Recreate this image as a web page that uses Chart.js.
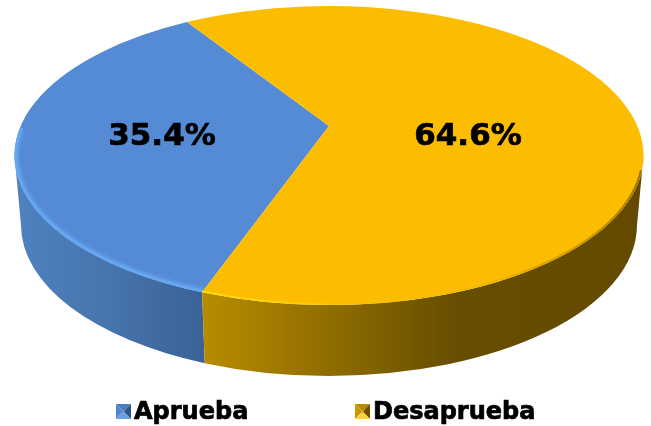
<!DOCTYPE html>
<html><head><meta charset="utf-8">
<style>html,body{margin:0;padding:0;background:#fff}canvas{display:block}</style>
<script src="https://cdn.jsdelivr.net/npm/chart.js@4"></script>
</head><body>
<canvas id="c" width="651" height="426"></canvas>
<script>
const categories = ['Aprueba', 'Desaprueba'];
const values = [35.4, 64.6];
const percentLabels = ['35.4%', '64.6%'];
const topColors = ['#558bd5', '#fcbd00'];

const TOP = {x: 329, y: 155.5, rx: 314.5, ry: 149.5};
const BOTTOM = {x: 329, y: 225, rx: 308, ry: 151};
const APEX = {x: 329, y: 126};
const FONT = '"DejaVu Sans"';
const LEFT = Math.PI, RIGHT = 0;
const norm = a => { const t = Math.PI * 2; return ((a % t) + t) % t; };
// slight perspective bend of the pie angles (chart angle: 0 = east, clockwise)
const warp = a => a - (1.07 * Math.PI / 180) * Math.sin(a);

function wallPath(ctx, a, b) {            // front wall between angles a > b
  ctx.beginPath();
  ctx.ellipse(TOP.x, TOP.y, TOP.rx, TOP.ry, 0, a, b, true);
  ctx.ellipse(BOTTOM.x, BOTTOM.y, BOTTOM.rx, BOTTOM.ry, 0, b, a, false);
  ctx.closePath();
}
function grad(ctx, x0, x1, stops) {
  const g = ctx.createLinearGradient(x0, 0, x1, 0);
  stops.forEach(s => g.addColorStop(s[0], s[1]));
  return g;
}
function icon(ctx, x, y, s, c) {
  const i = s * 0.42, poly = (col, p) => {
    ctx.fillStyle = col; ctx.beginPath();
    p.forEach((q, n) => n ? ctx.lineTo(x + q[0], y + q[1]) : ctx.moveTo(x + q[0], y + q[1]));
    ctx.closePath(); ctx.fill();
  };
  poly(c.top, [[0,0],[s,0],[s-i,i],[i,i]]);
  poly(c.left, [[0,0],[i,i],[i,s-i],[0,s]]);
  poly(c.right, [[s,0],[s,s],[s-i,s-i],[s-i,i]]);
  poly(c.bottom, [[0,s],[i,s-i],[s-i,s-i],[s,s]]);
  poly(c.mid, [[i,i],[s-i,i],[s-i,s-i],[i,s-i]]);
}
const iconColors = [
  {top:'#4a7cc0', left:'#4f86cc', right:'#2f5687', bottom:'#6a9ee0', mid:'#4378b8'},
  {top:'#b58a00', left:'#c79800', right:'#6e5200', bottom:'#ffd23a', mid:'#c09000'}
];
const legendSpots = [{x:116, y:404}, {x:355, y:404}];
const labelSpots = [{x:162, y:137}, {x:468, y:137}];

const pie3d = {
  id: 'pie3d',
  beforeDatasetsDraw(chart) {
    const ctx = chart.ctx, arcs = chart.getDatasetMeta(0).data;
    const blue = arcs[0];
    const seam = norm(warp(blue.startAngle));   // front seam between the two slices
    ctx.save();
    // side walls
    wallPath(ctx, LEFT, seam);
    ctx.fillStyle = grad(ctx, 15, 205, [[0,'#4f82c2'],[0.5,'#4674ac'],[1,'#3a6295']]);
    ctx.fill();
    wallPath(ctx, seam, RIGHT);
    ctx.fillStyle = grad(ctx, 202, 643, [[0,'#b88c00'],[0.3,'#8e6c00'],[0.58,'#664d00'],[1,'#634a00']]);
    ctx.fill();
    // top face, angles come from the library's arcs
    arcs.forEach((arc, i) => {
      ctx.beginPath();
      ctx.moveTo(APEX.x, APEX.y);
      ctx.ellipse(TOP.x, TOP.y, TOP.rx, TOP.ry, 0, warp(arc.startAngle), warp(arc.endAngle));
      ctx.closePath();
      ctx.fillStyle = chart.data.datasets[0].backgroundColor[i];
      ctx.fill();
    });
    // bevel along the rim
    ctx.save();
    ctx.beginPath();
    ctx.ellipse(TOP.x, TOP.y, TOP.rx, TOP.ry, 0, 0, Math.PI * 2);
    ctx.clip();
    const rim = (a, b, style, w) => {
      ctx.beginPath();
      ctx.ellipse(TOP.x, TOP.y, TOP.rx - w / 2 + 0.5, TOP.ry - w / 2 + 0.5, 0, a, b, true);
      ctx.strokeStyle = style; ctx.lineWidth = w; ctx.stroke();
    };
    rim(Math.PI * 1.06, seam, 'rgba(100,165,240,0.4)', 6);
    rim(Math.PI * 1.06, seam, 'rgba(102,168,242,0.9)', 3.5);
    const yg = grad(ctx, 202, 643, [[0,'#ffdc10'],[0.22,'#ffcc00'],[0.4,'rgba(252,189,0,0)'],[0.62,'rgba(200,150,0,0.15)'],[1,'rgba(130,98,0,0.8)']]);
    rim(seam, 0.1, yg, 2.5);
    ctx.restore();
    ctx.restore();
    return false;
  },
  afterDraw(chart) {
    const ctx = chart.ctx;
    ctx.save();
    ctx.textBaseline = 'middle';
    ctx.fillStyle = '#000';
    ctx.strokeStyle = '#000';
    ctx.textAlign = 'center';
    ctx.font = 'bold 31px ' + FONT;
    ctx.lineWidth = 0.7;
    percentLabels.forEach((t, i) => {
      ctx.fillText(t, labelSpots[i].x, labelSpots[i].y);
      ctx.strokeText(t, labelSpots[i].x, labelSpots[i].y);
    });
    ctx.textAlign = 'left';
    ctx.font = 'bold 24px ' + FONT;
    categories.forEach((t, i) => {
      const s = legendSpots[i];
      icon(ctx, s.x, s.y, 15, iconColors[i]);
      ctx.fillStyle = '#000';
      ctx.fillText(t, s.x + 18, s.y + 9);
      ctx.strokeText(t, s.x + 18, s.y + 9);
    });
    ctx.restore();
  }
};

new Chart(document.getElementById('c'), {
  type: 'pie',
  data: { labels: categories, datasets: [{ data: values, backgroundColor: topColors, borderWidth: 0 }] },
  options: {
    responsive: false,
    animation: false,
    rotation: 204.77,
    plugins: { legend: { display: false }, tooltip: { enabled: false } }
  },
  plugins: [pie3d]
});
</script>
</body></html>
